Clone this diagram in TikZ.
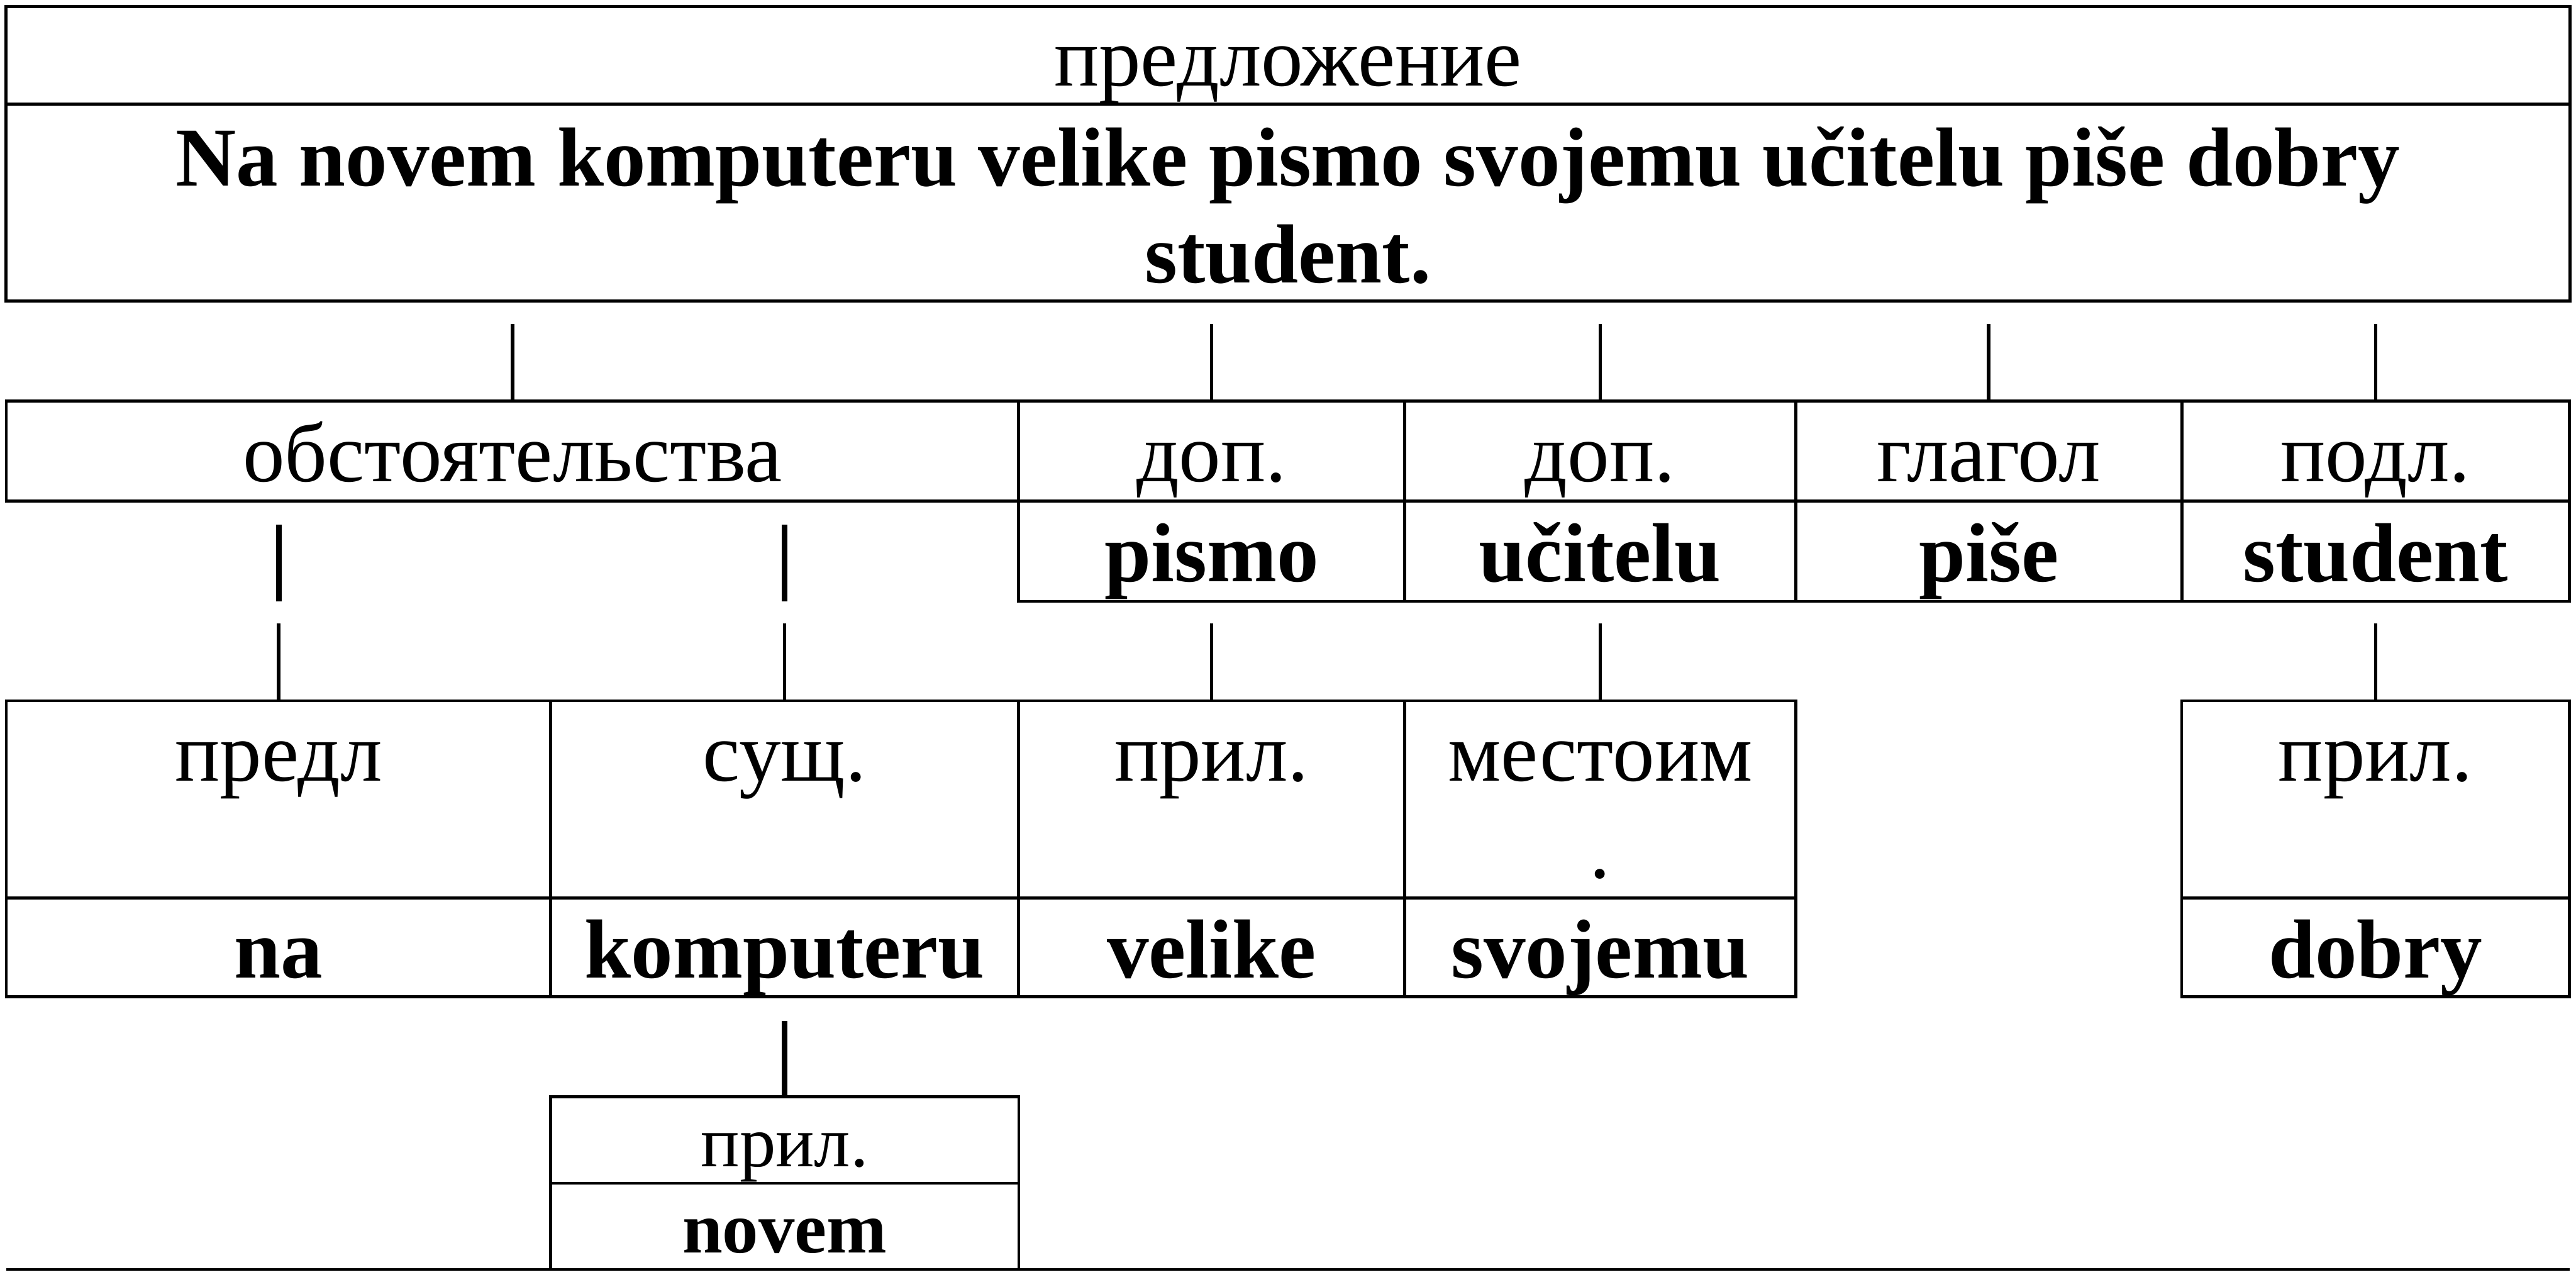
\documentclass[tikz,border=0pt]{standalone}
\usepackage{fontspec}
\setmainfont{Liberation Serif}
\usetikzlibrary{positioning}

\newcommand{\twoline}[2]{\begin{tabular}[t]{@{}c@{}}#1\\#2\end{tabular}}

\tikzset{
  cell/.style={draw, rectangle, line width=0.5pt, inner sep=0pt, outer sep=0pt,
    text height=0.37cm, text depth=0cm, font=\fontsize{14.5}{16.8}\selectfont},
  wordcell/.style={cell, font=\fontsize{14.5}{16.8}\selectfont\bfseries},
  tallcell/.style={cell, minimum height=1.2cm, text height=0.3cm, text depth=0.524cm},
  smallcell/.style={cell, minimum height=0.525cm, text height=0.32cm},
  conn/.style={line width=0.6pt},
  thickconn/.style={line width=1pt}
}

\begin{document}
\begin{tikzpicture}[x=0.01cm, y=-0.01cm]
    \useasboundingbox (0,0) rectangle (1568,777);
    % sentence
    \node[cell, minimum width=15.6cm, minimum height=0.594cm] (head) at (784,33.7) {предложение};
    \node[wordcell, minimum width=15.6cm, minimum height=1.196cm, text height=0.3cm, text depth=0.504cm, below=0pt of head] (sent)
        {\twoline{Na novem komputeru velike pismo svojemu učitelu piše dobry}{student.}};

    % second row
    \node[cell, minimum width=6.16cm, minimum height=0.61cm] (obst) at (312,274.5) {обстоятельства};
    \node[cell, minimum width=2.35cm, minimum height=0.61cm] (dop-a) at (737.5,274.5) {доп.};
    \node[cell, minimum width=2.38cm, minimum height=0.61cm] (dop-b) at (974,274.5) {доп.};
    \node[cell, minimum width=2.35cm, minimum height=0.61cm] (glagol) at (1210.5,274.5) {глагол};
    \node[cell, minimum width=2.36cm, minimum height=0.61cm] (podl) at (1446,274.5) {подл.};
    \node[wordcell, minimum width=2.35cm, minimum height=0.61cm, below=0pt of dop-a] (pismo) {pismo};
    \node[wordcell, minimum width=2.38cm, minimum height=0.61cm, below=0pt of dop-b] (ucitelu) {učitelu};
    \node[wordcell, minimum width=2.35cm, minimum height=0.61cm, below=0pt of glagol] (pise) {piše};
    \node[wordcell, minimum width=2.36cm, minimum height=0.61cm, below=0pt of podl] (student) {student};

    % third row
    \node[tallcell, minimum width=3.313cm] (predl) at (169.65,486.5) {предл};
    \node[tallcell, minimum width=2.847cm] (sush) at (477.65,486.5) {сущ.};
    \node[tallcell, minimum width=2.35cm] (pril-a) at (737.5,486.5) {прил.};
    \node[tallcell, minimum width=2.38cm] (mest) at (974,486.5) {\twoline{местоим}{.}};
    \node[tallcell, minimum width=2.36cm] (pril-b) at (1446,486.5) {прил.};
    \node[wordcell, minimum width=3.313cm, minimum height=0.6cm, below=0pt of predl] (na) {na};
    \node[wordcell, minimum width=2.847cm, minimum height=0.6cm, below=0pt of sush] (komputeru) {komputeru};
    \node[wordcell, minimum width=2.35cm, minimum height=0.6cm, below=0pt of pril-a] (velike) {velike};
    \node[wordcell, minimum width=2.38cm, minimum height=0.6cm, below=0pt of mest] (svojemu) {svojemu};
    \node[wordcell, minimum width=2.36cm, minimum height=0.6cm, below=0pt of pril-b] (dobry) {dobry};

    % fourth row
    \node[smallcell, minimum width=2.847cm, font=\fontsize{12.5}{14.5}\selectfont] (pril-c) at (477.65,693.75) {прил.};
    \node[smallcell, minimum width=2.847cm, font=\fontsize{12.5}{14.5}\selectfont\bfseries, below=0pt of pril-c] (novem) {novem};
    \draw[line width=0.5pt] (na.west |- novem.south) -- (dobry.east |- novem.south);

    % lines
    \foreach \n in {obst,dop-a,dop-b,glagol,podl}
        \draw[conn, shorten <=0.14cm] (sent.south -| \n.north) -- (\n.north);
    \draw[conn, shorten <=0.134cm] (pismo.south) -- (pril-a.north);
    \draw[conn, shorten <=0.134cm] (ucitelu.south) -- (mest.north);
    \draw[conn, shorten <=0.134cm] (student.south) -- (pril-b.north);
    \foreach \n in {predl,sush}{
        \draw[thickconn, shorten <=0.143cm] (obst.south -| \n.north) -- (pismo.south -| \n.north);
        \draw[conn, shorten <=0.134cm] (pismo.south -| \n.north) -- (\n.north);
    }
    \draw[thickconn, shorten <=0.148cm] (komputeru.south) -- (pril-c.north);
\end{tikzpicture}
\end{document}
